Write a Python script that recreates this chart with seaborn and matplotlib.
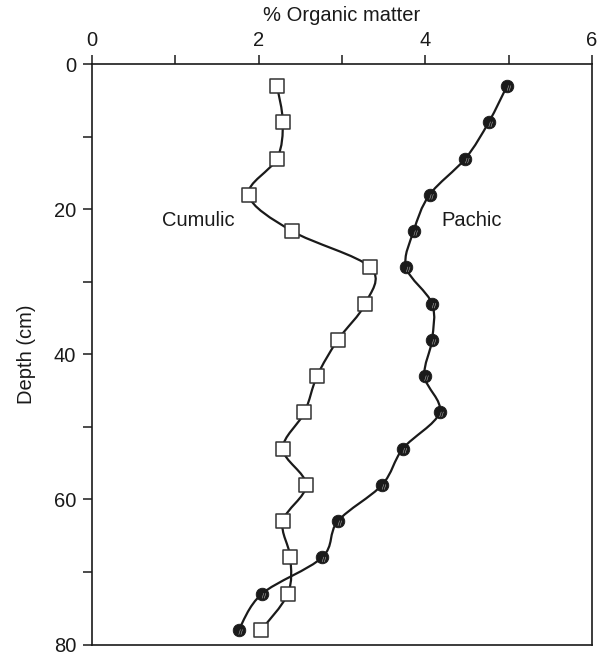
import numpy as np
import pandas as pd
import matplotlib
matplotlib.use("Agg")
import matplotlib.pyplot as plt
import matplotlib.transforms as mtransforms
from matplotlib.path import Path
from matplotlib.patches import PathPatch
import seaborn as sns

# Sampling depths (cm) and organic matter content (%) per profile
depth = [3, 8, 13, 18, 23, 28, 33, 38, 43, 48, 53, 58, 63, 68, 73, 78]
cumulic = [2.22, 2.29, 2.22, 1.88, 2.40, 3.34, 3.28, 2.95, 2.70, 2.55,
           2.29, 2.57, 2.29, 2.38, 2.35, 2.03]
pachic = [4.98, 4.76, 4.48, 4.05, 3.86, 3.77, 4.08, 4.08, 3.99, 4.17,
          3.73, 3.48, 2.95, 2.76, 2.04, 1.76]

x_ticks = [0, 1, 2, 3, 4, 5, 6]
x_labels = ["0", "", "2", "", "4", "", "6"]
y_ticks = [0, 10, 20, 30, 40, 50, 60, 70, 80]
y_labels = ["0", "", "20", "", "40", "", "60", "", "80"]

df = pd.DataFrame({
    "depth": depth * 2,
    "om": cumulic + pachic,
    "profile": ["Cumulic"] * len(depth) + ["Pachic"] * len(depth),
})

sns.set_theme(style="ticks")
plt.rcParams["font.family"] = ["Liberation Sans", "DejaVu Sans"]

INK = "#1a1a1a"
FS = 14.5

fig = plt.figure(figsize=(6.0, 6.56), dpi=100)
ax = fig.add_axes([0.1533, 0.0175, 0.8334, 0.8845])


def smooth_path(xs, ys, tension=1.0 / 6.0):
    """Catmull-Rom curve through the points, expressed as cubic Bezier segments."""
    pts = np.column_stack([xs, ys]).astype(float)
    n = len(pts)
    verts = [pts[0]]
    codes = [Path.MOVETO]
    for i in range(n - 1):
        p0 = pts[i - 1] if i > 0 else pts[i]
        p1 = pts[i]
        p2 = pts[i + 1]
        p3 = pts[i + 2] if i + 2 < n else pts[i + 1]
        c1 = p1 + (p2 - p0) * tension
        c2 = p2 - (p3 - p1) * tension
        verts += [c1, c2, p2]
        codes += [Path.CURVE4] * 3
    return Path(verts, codes)


for series in (cumulic, pachic):
    ax.add_patch(PathPatch(smooth_path(series, depth), facecolor="none",
                           edgecolor=INK, lw=1.6, zorder=2))

cum = df[df.profile == "Cumulic"]
pac = df[df.profile == "Pachic"]

sns.scatterplot(data=cum, x="om", y="depth", ax=ax,
                marker="s", s=92, facecolor="white", edgecolor="#333333",
                linewidth=1.1, zorder=3, legend=False)
sns.scatterplot(data=pac, x="om", y="depth", ax=ax,
                marker="o", s=82, color=INK, edgecolor=INK,
                linewidth=0.6, zorder=3, legend=False)
# faint shading strokes on the filled circles
n_before = len(ax.collections)
sns.scatterplot(data=pac, x="om", y="depth", ax=ax,
                marker=r"$//$", s=14, color="#bbbbbb", edgecolor="none",
                linewidth=0, zorder=4, legend=False)
shade = ax.collections[n_before]
shade.set_offset_transform(
    mtransforms.offset_copy(ax.transData, fig=fig, x=2, y=-2, units="dots"))

ax.set_xlim(0, 6)
ax.set_ylim(80, 0)
ax.xaxis.set_ticks_position("top")
ax.xaxis.set_label_position("top")
ax.set_xticks(x_ticks)
ax.set_xticklabels(x_labels)
ax.set_yticks(y_ticks)
ax.set_yticklabels(y_labels)
ax.tick_params(axis="both", direction="out", length=6.5, width=1.1,
               colors=INK, labelsize=FS)
ax.tick_params(axis="x", pad=4)
ax.tick_params(axis="y", pad=5)
ax.set_xlabel("% Organic matter", fontsize=FS, labelpad=7, color=INK)
ax.set_ylabel("Depth (cm)", fontsize=FS, labelpad=13, color=INK)

for sp in ax.spines.values():
    sp.set_visible(True)
    sp.set_linewidth(1.2)
    sp.set_color(INK)

ax.text(1.27, 21.6, "Cumulic", fontsize=FS, ha="center", va="center",
        color=INK)
ax.text(4.55, 21.6, "Pachic", fontsize=FS, ha="center", va="center",
        color=INK)

fig.savefig("out.png", dpi=100, facecolor="white")
